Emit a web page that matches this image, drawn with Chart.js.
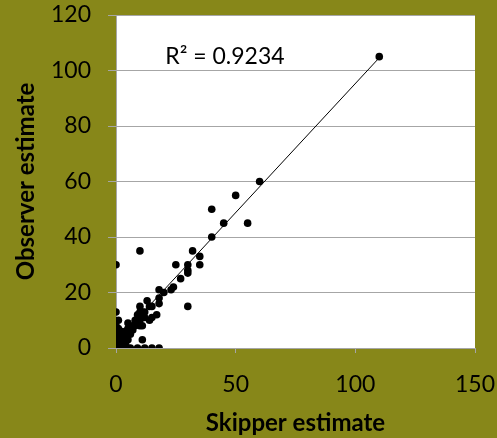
<!DOCTYPE html>
<html>
<head>
<meta charset="utf-8">
<script src="https://cdn.jsdelivr.net/npm/chart.js@4.4.1/dist/chart.umd.min.js"></script>
<style>
  html, body { margin: 0; padding: 0; background: #878719; }
  #wrap { width: 497px; height: 438px; }
</style>
</head>
<body>
<div id="wrap"><canvas id="c" width="497" height="438"></canvas></div>
<script>
const skipperX = [110, 60, 50, 40, 45, 55, 40, 32, 35, 35, 30, 30, 30, 25, 27, 24, 23, 18, 20, 18, 18, 15, 14, 10, 0, 30, 10, 0, 1, 5, 10, 12, 9, 7, 11, 11, 14, 10, 8, 11, 7, 6, 4, 2, 0, 0, 0, 0, 1, 2, 3, 4, 5, 6, 9, 12, 15, 18, 0, 1, 2, 3, 1, 2, 3, 5, 6, 8, 9, 10, 10, 12, 15, 17, 13, 10, 5, 0, 0, 1, 2, 3, 4, 1, 2, 3, 4, 5, 0, 1];
const observerY = [105, 60, 55, 50, 45, 45, 40, 35, 33, 30, 30, 28, 27, 30, 25, 22, 21, 21, 20, 18, 16, 15, 15, 35, 30, 15, 15, 13, 10, 9, 12, 11, 9, 8, 3, 13, 10, 11, 8, 8, 6.5, 5, 4, 3, 5, 3.5, 2, 0, 0, 0, 0, 0, 0, 0, 0, 0, 0, 0, 1, 1, 1, 2, 2, 2, 3, 5, 6, 10, 12, 10, 8, 13, 11, 12, 17, 13, 7, 8, 4, 3, 4, 5, 6, 5, 6, 1, 2, 3, 6, 7];
const trendX = [0, 110];
const trendY = [2.3, 104.6];
const xTicks = [0, 50, 100, 150];
const yTicks = [0, 20, 40, 60, 80, 100, 120];
const rSquaredLabel = "R\u00B2 = 0.9234";

const points = skipperX.map((x, i) => ({ x: x, y: observerY[i] }));
const trend = trendX.map((x, i) => ({ x: x, y: trendY[i] }));

Chart.defaults.font.family = "Lato, 'Open Sans', sans-serif";
Chart.defaults.color = '#000';

const plotBg = {
  id: 'plotBg',
  beforeDraw(chart) {
    const { ctx, chartArea: a } = chart;
    ctx.save();
    ctx.fillStyle = '#ffffff';
    ctx.fillRect(a.left, a.top, a.right - a.left, a.bottom - a.top);
    ctx.restore();
  },
  afterDatasetsDraw(chart) {
    const { ctx, scales } = chart;
    ctx.save();
    ctx.fillStyle = '#000';
    ctx.font = "23px Lato, 'Open Sans', sans-serif";
    ctx.textBaseline = 'middle';
    ctx.textAlign = 'left';
    ctx.fillText(rSquaredLabel, scales.x.getPixelForValue(20.6), scales.y.getPixelForValue(105));
    ctx.restore();
  }
};

function noPad(s) {
  s.paddingTop = 0; s.paddingBottom = 0; s.paddingLeft = 0; s.paddingRight = 0;
}

new Chart(document.getElementById('c'), {
  type: 'scatter',
  data: {
    datasets: [
      {
        label: 'trend',
        data: trend,
        showLine: true,
        borderColor: '#000',
        borderWidth: 1,
        pointRadius: 0,
        order: 2
      },
      {
        label: 'obs',
        data: points,
        backgroundColor: '#000',
        borderColor: '#000',
        pointRadius: 3.8,
        pointBorderWidth: 0,
        order: 1
      }
    ]
  },
  options: {
    responsive: false,
    animation: false,
    devicePixelRatio: 1,
    layout: { padding: { left: 0, right: 22, top: 15, bottom: 0 } },
    plugins: { legend: { display: false }, tooltip: { enabled: false } },
    scales: {
      x: {
        type: 'linear',
        min: 0, max: 150,
        afterBuildTicks(s) { s.ticks = xTicks.map(v => ({ value: v })); },
        grid: { drawOnChartArea: false, drawTicks: true, tickLength: 5, color: '#a6a6a6' },
        border: { color: '#a6a6a6', width: 1 },
        ticks: { font: { size: 23 }, padding: 18, color: '#000', maxRotation: 0 },
        title: { display: true, text: 'Skipper estimate', font: { size: 24, weight: 'bold' }, color: '#000', padding: { top: 0, bottom: 0 } },
        afterFit(s) { s.height = 90; noPad(s); }
      },
      y: {
        type: 'linear',
        min: 0, max: 120,
        afterBuildTicks(s) { s.ticks = yTicks.map(v => ({ value: v })); },
        grid: { drawOnChartArea: true, drawTicks: true, tickLength: 8, color: '#a6a6a6' },
        border: { color: '#a6a6a6', width: 1 },
        ticks: { font: { size: 23 }, padding: 17, color: '#000' },
        title: { display: true, text: 'Observer estimate', font: { size: 24, weight: 'bold' }, color: '#000', padding: { top: 12, bottom: 2 } },
        afterFit(s) { s.width = 116; noPad(s); }
      }
    }
  },
  plugins: [plotBg]
});
</script>
</body>
</html>
